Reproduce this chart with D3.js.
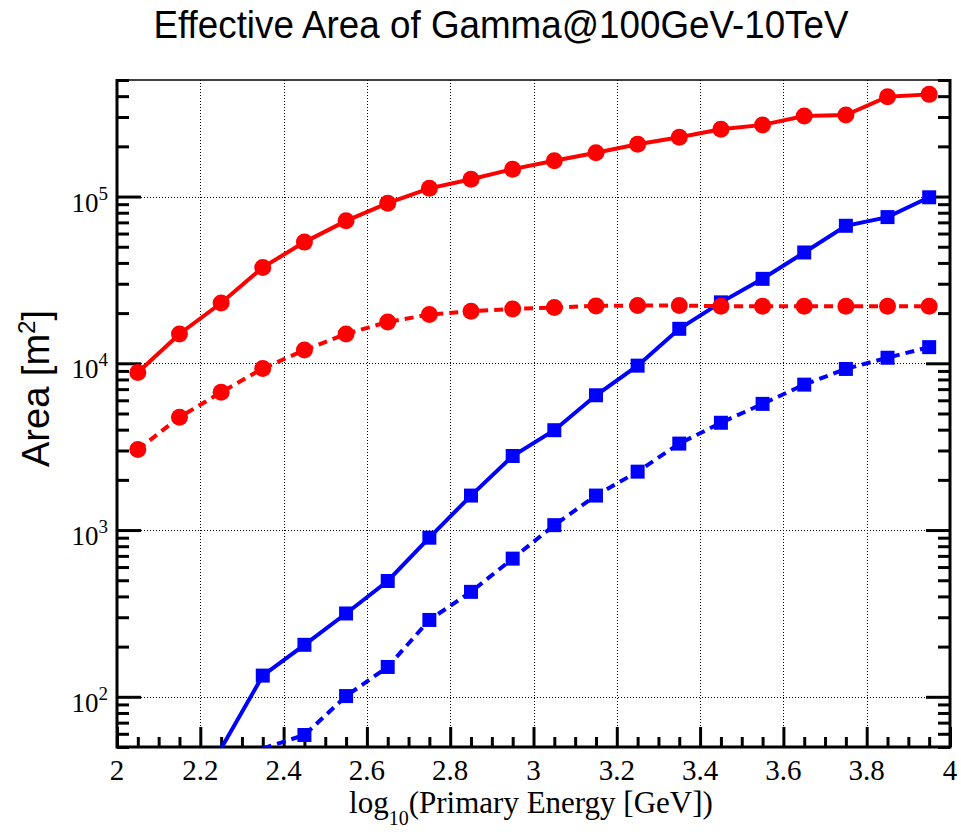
<!DOCTYPE html>
<html>
<head>
<meta charset="utf-8">
<script src="https://cdn.jsdelivr.net/npm/d3@7/dist/d3.min.js"></script>
<style>
  html, body { margin: 0; padding: 0; background: #fff; }
  svg { display: block; }
</style>
</head>
<body>
<svg id="chart" width="961" height="832"></svg>
<script>
// log10 of primary energy (bin centres, GeV)
const energies = [2.05, 2.15, 2.25, 2.35, 2.45, 2.55, 2.65, 2.75, 2.85, 2.95,
                  3.05, 3.15, 3.25, 3.35, 3.45, 3.55, 3.65, 3.75, 3.85, 3.95];

// effective areas in m^2 (null = no entry)
const redSolidArea = [8800, 15000, 23000, 37600, 53300, 71500, 91300, 112000, 127000, 146000,
                      164000, 183000, 206000, 227000, 253000, 269000, 304000, 308000, 397000, 410000];
const redDashedArea = [3040, 4750, 6700, 9300, 12000, 15000, 17700, 19600, 20500, 21200,
                       21600, 22100, 22200, 22200, 22000, 22000, 22000, 22000, 22000, 22000];
const blueSolidArea = [null, null, 49, 134, 205, 316, 495, 900, 1610, 2780,
                       3970, 6430, 9680, 16100, 23200, 32100, 46200, 66800, 75300, 99000];
const blueDashedArea = [null, null, null, 49, 59, 101, 151, 289, 426, 674,
                        1070, 1610, 2240, 3300, 4400, 5710, 7450, 9250, 10800, 12500];

// axis ticks and labels
const xMajorTicks = [2, 2.2, 2.4, 2.6, 2.8, 3, 3.2, 3.4, 3.6, 3.8, 4];
const xTickLabels = ["2", "2.2", "2.4", "2.6", "2.8", "3", "3.2", "3.4", "3.6", "3.8", "4"];
const yMajorTicks = [1e2, 1e3, 1e4, 1e5];
const yTickExponents = ["2", "3", "4", "5"];

const titleText = "Effective Area of Gamma@100GeV-10TeV";

// ---------------------------------------------------------------
const W = 961, H = 832;
const plot = { left: 117, right: 950, top: 80, bottom: 747 };

const svg = d3.select("#chart");
svg.append("rect").attr("width", W).attr("height", H).attr("fill", "#fff");

const x = d3.scaleLinear().domain([2, 4]).range([plot.left, plot.right]);
const y = d3.scaleLog().domain([50, 5e5]).range([plot.bottom, plot.top]);

// minor ticks
const xMinorTicks = d3.range(0, 41).map(i => 2 + i * 0.05)
  .filter(v => !xMajorTicks.some(m => Math.abs(m - v) < 1e-9));
const yMinorTicks = [];
for (let e = 1; e <= 5; e++) {
  for (let k = 2; k <= 9; k++) {
    const v = k * Math.pow(10, e);
    if (v >= 50 && v <= 5e5) yMinorTicks.push(v);
  }
}

// grid
const grid = svg.append("g").attr("stroke", "#000").attr("stroke-width", 1)
  .attr("stroke-dasharray", "1,2");
grid.selectAll("line.gx").data(xMajorTicks.slice(1, -1)).join("line")
  .attr("x1", d => Math.round(x(d)) + 0.5).attr("x2", d => Math.round(x(d)) + 0.5)
  .attr("y1", plot.top).attr("y2", plot.bottom);
grid.selectAll("line.gy").data(yMajorTicks).join("line")
  .attr("x1", plot.left).attr("x2", plot.right)
  .attr("y1", d => Math.round(y(d)) + 0.5).attr("y2", d => Math.round(y(d)) + 0.5);

// axes (ticks point into the frame)
const axisStyle = g => {
  g.select(".domain").remove();
  g.selectAll(".tick line").attr("stroke", "#000").attr("stroke-width", 3);
  g.selectAll(".tick text").remove();
};
svg.append("g").attr("transform", `translate(0,${plot.bottom})`)
  .call(d3.axisBottom(x).tickValues(xMajorTicks).tickSize(-20)).call(axisStyle);
svg.append("g").attr("transform", `translate(0,${plot.bottom})`)
  .call(d3.axisBottom(x).tickValues(xMinorTicks).tickSize(-10)).call(axisStyle);
svg.append("g").attr("transform", `translate(${plot.left},0)`)
  .call(d3.axisLeft(y).tickValues(yMajorTicks).tickSize(-24)).call(axisStyle);
svg.append("g").attr("transform", `translate(${plot.left},0)`)
  .call(d3.axisLeft(y).tickValues(yMinorTicks).tickSize(-12)).call(axisStyle);
svg.append("g").attr("transform", `translate(${plot.right},0)`)
  .call(d3.axisRight(y).tickValues(yMajorTicks).tickSize(-24)).call(axisStyle);
svg.append("g").attr("transform", `translate(${plot.right},0)`)
  .call(d3.axisRight(y).tickValues(yMinorTicks).tickSize(-12)).call(axisStyle);

// frame
svg.append("line").attr("x1", plot.left).attr("x2", plot.right)
  .attr("y1", plot.top).attr("y2", plot.top).attr("stroke", "#000").attr("stroke-width", 1.5);
svg.append("path")
  .attr("d", `M${plot.left},${plot.top - 1}V${plot.bottom}H${plot.right}V${plot.top - 1}`)
  .attr("fill", "none").attr("stroke", "#000").attr("stroke-width", 3);

// tick labels
const serif = "'Liberation Serif', 'Times New Roman', serif";
svg.append("g").selectAll("text").data(xMajorTicks).join("text")
  .attr("x", d => x(d)).attr("y", plot.bottom + 33)
  .attr("text-anchor", "middle").attr("font-family", serif).attr("font-size", 29)
  .text((d, i) => xTickLabels[i]);

const yl = svg.append("g").selectAll("text").data(yMajorTicks).join("text")
  .attr("x", plot.left - 9).attr("y", d => y(d) + 15)
  .attr("text-anchor", "end").attr("font-family", serif).attr("font-size", 27);
yl.append("tspan").text("10");
yl.append("tspan").attr("font-size", 19).attr("dy", -12).text((d, i) => yTickExponents[i]);

// axis titles
const sans = "'Liberation Sans', Arial, Helvetica, sans-serif";
const xt = svg.append("text").attr("x", 531).attr("y", 813)
  .attr("text-anchor", "middle").attr("font-family", serif).attr("font-size", 31);
xt.append("tspan").text("log");
xt.append("tspan").attr("font-size", 20).attr("dy", 12).text("10");
xt.append("tspan").attr("dy", -12).text("(Primary Energy [GeV])");

const yt = svg.append("text")
  .attr("transform", `translate(49,${(plot.top + plot.bottom) / 2 - 25}) rotate(-90)`)
  .attr("text-anchor", "middle").attr("font-family", sans).attr("font-size", 38);
yt.append("tspan").text("Area [m");
yt.append("tspan").attr("font-size", 24).attr("dy", -14).text("2");
yt.append("tspan").attr("dy", 14).text("]");

// title
svg.append("text").attr("x", 501).attr("y", 38)
  .attr("text-anchor", "middle").attr("font-family", sans).attr("font-size", 38)
  .attr("textLength", 695).attr("lengthAdjust", "spacingAndGlyphs")
  .text(titleText);

// data
svg.append("clipPath").attr("id", "plotClip").append("rect")
  .attr("x", plot.left).attr("y", plot.top)
  .attr("width", plot.right - plot.left).attr("height", plot.bottom - plot.top);

const series = [
  { values: blueSolidArea, color: "#0000ff", dash: null, marker: "square" },
  { values: blueDashedArea, color: "#0000ff", dash: "9,6", marker: "square" },
  { values: redSolidArea, color: "#ff0000", dash: null, marker: "circle" },
  { values: redDashedArea, color: "#ff0000", dash: "9,6", marker: "circle" }
];

const line = d3.line()
  .defined(d => d.v != null)
  .x(d => x(d.e)).y(d => y(d.v));

const layer = svg.append("g").attr("clip-path", "url(#plotClip)");
series.forEach(s => {
  const pts = energies.map((e, i) => ({ e, v: s.values[i] }));
  layer.append("path").datum(pts)
    .attr("d", line)
    .attr("fill", "none").attr("stroke", s.color).attr("stroke-width", 4)
    .attr("stroke-dasharray", s.dash);
  const shown = pts.filter(d => d.v != null && d.v >= y.domain()[0] && d.v <= y.domain()[1]);
  const sym = d3.symbol()
    .type(s.marker === "square" ? d3.symbolSquare : d3.symbolCircle)
    .size(s.marker === "square" ? 14 * 14 : Math.PI * 8.5 * 8.5);
  svg.append("g").selectAll("path").data(shown).join("path")
    .attr("transform", d => `translate(${x(d.e)},${y(d.v)})`)
    .attr("d", sym).attr("fill", s.color);
});
</script>
</body>
</html>
